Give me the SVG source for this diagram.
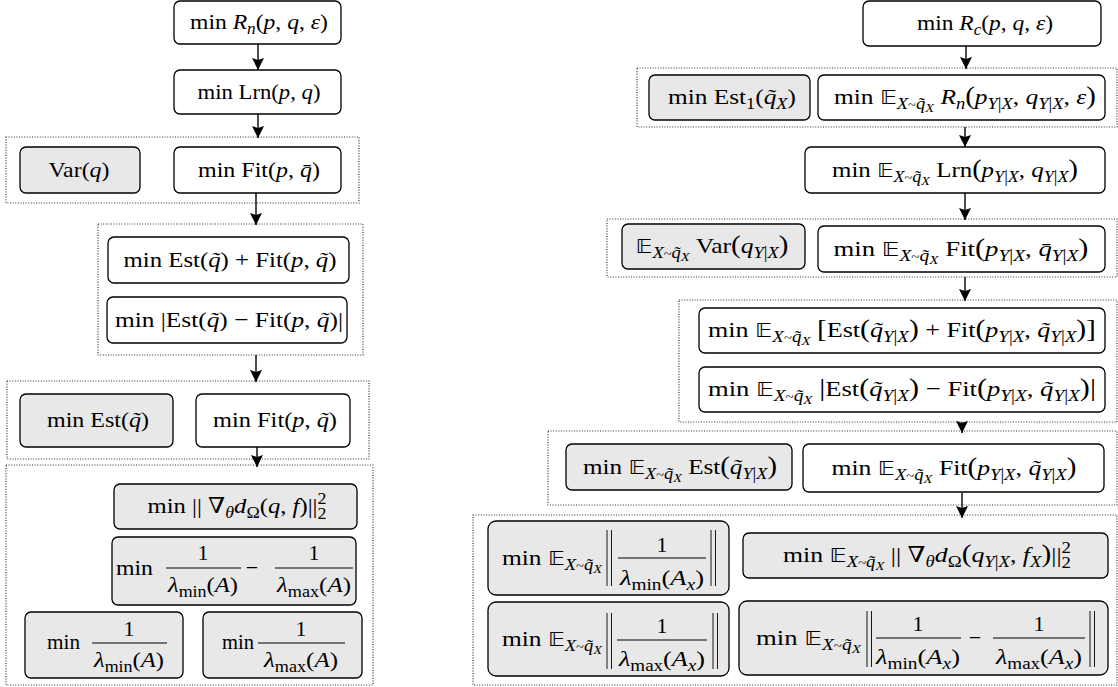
<svg xmlns="http://www.w3.org/2000/svg" width="1118" height="687" viewBox="0 0 1118 687">
<defs>
<style>
.t{font-family:"Liberation Serif","DejaVu Serif",serif;font-size:22px;fill:#000}
.i{font-style:italic}
.s{font-size:16px}
.ss{font-size:12.5px}
.bp{font-size:25px}
.bb{font-family:"DejaVu Sans","DejaVu Serif",sans-serif;font-size:20px}
.box{fill:#fff;stroke:#000;stroke-width:1.3}
.gbox{fill:#e8e8e8;stroke:#000;stroke-width:1.3}
.grp{fill:none;stroke:#333;stroke-width:1.2;stroke-dasharray:1 1.6}
.edge{stroke:#000;stroke-width:1.4;fill:none;marker-end:url(#ah)}
.fb{stroke:#000;stroke-width:1.2}
.db{stroke:#000;stroke-width:0.9}
</style>
<marker id="ah" markerWidth="14" markerHeight="14" viewBox="-13 -7 14 14" refX="0" refY="0" orient="auto" markerUnits="userSpaceOnUse">
<path d="M0,0 L-12,-6 L-10,0 L-12,6 Z" fill="#000"/>
</marker>
</defs>
<rect width="1118" height="687" fill="#fff"/>

<g id="groups">
<rect class="grp" x="6" y="137" width="353" height="66"/>
<rect class="grp" x="98" y="224" width="265" height="131"/>
<rect class="grp" x="7" y="381" width="362" height="78"/>
<rect class="grp" x="6" y="465" width="367" height="220"/>
<rect class="grp" x="637" y="68" width="480" height="59"/>
<rect class="grp" x="607" y="219" width="510" height="58"/>
<rect class="grp" x="679" y="300" width="438" height="122"/>
<rect class="grp" x="548" y="431" width="569" height="74"/>
<rect class="grp" x="473" y="515" width="644" height="170"/>
</g>

<g id="connectors">
<line class="edge" x1="258" y1="44" x2="258" y2="70"/>
<line class="edge" x1="258" y1="114" x2="258" y2="138"/>
<line class="edge" x1="256" y1="193" x2="256" y2="225"/>
<line class="edge" x1="256" y1="355" x2="256" y2="382"/>
<line class="edge" x1="257" y1="447" x2="257" y2="467"/>
<line class="edge" x1="966" y1="46" x2="966" y2="69"/>
<line class="edge" x1="965" y1="127" x2="965" y2="147"/>
<line class="edge" x1="965" y1="193" x2="965" y2="220"/>
<line class="edge" x1="965" y1="277" x2="965" y2="301"/>
<line class="edge" x1="962" y1="422" x2="962" y2="433"/>
<line class="edge" x1="962" y1="493" x2="962" y2="518"/>
</g>

<g id="n-rn">
<rect class="box" x="174" y="1" width="167" height="43" rx="6"/>
<text class="t" x="259" y="29" text-anchor="middle" textLength="138" lengthAdjust="spacingAndGlyphs">min <tspan class="i">R</tspan><tspan class="s i" dy="5">n</tspan><tspan dy="-5">(</tspan><tspan class="i">p</tspan>, <tspan class="i">q</tspan>, <tspan class="i">ε</tspan>)</text>
</g>
<g id="n-lrn">
<rect class="box" x="174" y="70" width="167" height="44" rx="6"/>
<text class="t" x="259" y="99" text-anchor="middle" textLength="123" lengthAdjust="spacingAndGlyphs">min Lrn(<tspan class="i">p</tspan>, <tspan class="i">q</tspan>)</text>
</g>
<g id="n-var">
<rect class="gbox" x="20" y="147" width="120" height="46" rx="6"/>
<text class="t" x="79" y="177" text-anchor="middle" textLength="61" lengthAdjust="spacingAndGlyphs">Var(<tspan class="i">q</tspan>)</text>
</g>
<g id="n-fitbar">
<rect class="box" x="174" y="147" width="167" height="46" rx="6"/>
<text class="t" x="259" y="177" text-anchor="middle" textLength="122" lengthAdjust="spacingAndGlyphs">min Fit(<tspan class="i">p</tspan>, <tspan class="i">q̄</tspan>)</text>
</g>
<g id="n-estplusfit">
<rect class="box" x="108" y="237" width="241" height="46" rx="6"/>
<text class="t" x="230" y="267" text-anchor="middle" textLength="213" lengthAdjust="spacingAndGlyphs">min Est(<tspan class="i">q̃</tspan>) + Fit(<tspan class="i">p</tspan>, <tspan class="i">q̃</tspan>)</text>
</g>
<g id="n-estminusfit">
<rect class="box" x="107" y="297" width="240" height="46" rx="6"/>
<text class="t" x="229" y="327" text-anchor="middle" textLength="228" lengthAdjust="spacingAndGlyphs">min |Est(<tspan class="i">q̃</tspan>) − Fit(<tspan class="i">p</tspan>, <tspan class="i">q̃</tspan>)|</text>
</g>
<g id="n-est">
<rect class="gbox" x="20" y="394" width="153" height="53" rx="6"/>
<text class="t" x="98" y="427" text-anchor="middle" textLength="102" lengthAdjust="spacingAndGlyphs">min Est(<tspan class="i">q̃</tspan>)</text>
</g>
<g id="n-fittilde">
<rect class="box" x="196" y="394" width="154" height="53" rx="6"/>
<text class="t" x="275" y="427" text-anchor="middle" textLength="124" lengthAdjust="spacingAndGlyphs">min Fit(<tspan class="i">p</tspan>, <tspan class="i">q̃</tspan>)</text>
</g>
<g id="n-grad">
<rect class="gbox" x="114" y="484" width="243" height="45" rx="6"/>
<text class="t" x="237" y="513" text-anchor="middle" textLength="179" lengthAdjust="spacingAndGlyphs">min || ∇<tspan class="s i" dy="5">θ</tspan><tspan class="i" dy="-5">d</tspan><tspan class="s" dy="5">Ω</tspan><tspan dy="-5">(</tspan><tspan class="i">q</tspan>, <tspan class="i">f</tspan>)||<tspan class="s" dy="-9">2</tspan><tspan class="s" dx="-8" dy="15">2</tspan></text>
</g>
<g id="n-lamdiff">
<rect class="gbox" x="112" y="537" width="244" height="68" rx="6"/>
<text class="t" x="116" y="575" textLength="37" lengthAdjust="spacingAndGlyphs">min</text>
<line class="fb" x1="166" y1="568" x2="241" y2="568"/>
<text class="t" x="203" y="560" text-anchor="middle">1</text>
<text class="t" x="203" y="592" text-anchor="middle" textLength="70" lengthAdjust="spacingAndGlyphs"><tspan class="i">λ</tspan><tspan class="s" dy="5">min</tspan><tspan dy="-5">(</tspan><tspan class="i">A</tspan>)</text>
<text class="t" x="252" y="575" text-anchor="middle">−</text>
<line class="fb" x1="275" y1="568" x2="353" y2="568"/>
<text class="t" x="314" y="560" text-anchor="middle">1</text>
<text class="t" x="314" y="592" text-anchor="middle" textLength="74" lengthAdjust="spacingAndGlyphs"><tspan class="i">λ</tspan><tspan class="s" dy="5">max</tspan><tspan dy="-5">(</tspan><tspan class="i">A</tspan>)</text>
</g>
<g id="n-lammin">
<rect class="gbox" x="25" y="612" width="158" height="66" rx="6"/>
<text class="t" x="47" y="649" textLength="33" lengthAdjust="spacingAndGlyphs">min</text>
<line class="fb" x1="92" y1="643" x2="167" y2="643"/>
<text class="t" x="129" y="636" text-anchor="middle">1</text>
<text class="t" x="129" y="667" text-anchor="middle" textLength="70" lengthAdjust="spacingAndGlyphs"><tspan class="i">λ</tspan><tspan class="s" dy="5">min</tspan><tspan dy="-5">(</tspan><tspan class="i">A</tspan>)</text>
</g>
<g id="n-lammax">
<rect class="gbox" x="203" y="612" width="159" height="66" rx="6"/>
<text class="t" x="222" y="649" textLength="32" lengthAdjust="spacingAndGlyphs">min</text>
<line class="fb" x1="258" y1="643" x2="345" y2="643"/>
<text class="t" x="301" y="636" text-anchor="middle">1</text>
<text class="t" x="301" y="667" text-anchor="middle" textLength="74" lengthAdjust="spacingAndGlyphs"><tspan class="i">λ</tspan><tspan class="s" dy="5">max</tspan><tspan dy="-5">(</tspan><tspan class="i">A</tspan>)</text>
</g>

<g id="n-rc">
<rect class="box" x="863" y="1" width="238" height="45" rx="6"/>
<text class="t" x="985" y="30" text-anchor="middle" textLength="136" lengthAdjust="spacingAndGlyphs">min <tspan class="i">R</tspan><tspan class="s i" dy="5">c</tspan><tspan dy="-5">(</tspan><tspan class="i">p</tspan>, <tspan class="i">q</tspan>, <tspan class="i">ε</tspan>)</text>
</g>
<g id="n-est1">
<rect class="gbox" x="649" y="75" width="161" height="45" rx="6"/>
<text class="t" x="732" y="104" text-anchor="middle" textLength="128" lengthAdjust="spacingAndGlyphs">min Est<tspan class="s" dy="5">1</tspan><tspan dy="-5">(</tspan><tspan class="i">q̃</tspan><tspan class="s i" dy="5">X</tspan><tspan dy="-5">)</tspan></text>
</g>
<g id="n-ern">
<rect class="box" x="818" y="75" width="287" height="45" rx="6"/>
<text class="t" x="965" y="104" text-anchor="middle" textLength="262" lengthAdjust="spacingAndGlyphs">min <tspan class="bb">𝔼</tspan><tspan class="s i" dy="5">X</tspan><tspan class="ss">~</tspan><tspan class="s i">q̃</tspan><tspan class="ss i" dy="3">X</tspan><tspan class="i" dy="-8"> R</tspan><tspan class="s i" dy="5">n</tspan><tspan class="bp" dy="-5">(</tspan><tspan class="i">p</tspan><tspan class="s" dy="5"><tspan class="i">Y</tspan>|<tspan class="i">X</tspan></tspan><tspan dy="-5">, </tspan><tspan class="i">q</tspan><tspan class="s" dy="5"><tspan class="i">Y</tspan>|<tspan class="i">X</tspan></tspan><tspan dy="-5">, </tspan><tspan class="i">ε</tspan><tspan class="bp">)</tspan></text>
</g>
<g id="n-elrn">
<rect class="box" x="805" y="147" width="300" height="46" rx="6"/>
<text class="t" x="955" y="177" text-anchor="middle" textLength="246" lengthAdjust="spacingAndGlyphs">min <tspan class="bb">𝔼</tspan><tspan class="s i" dy="5">X</tspan><tspan class="ss">~</tspan><tspan class="s i">q̃</tspan><tspan class="ss i" dy="3">X</tspan><tspan dy="-8"> Lrn</tspan><tspan class="bp">(</tspan><tspan class="i">p</tspan><tspan class="s" dy="5"><tspan class="i">Y</tspan>|<tspan class="i">X</tspan></tspan><tspan dy="-5">, </tspan><tspan class="i">q</tspan><tspan class="s" dy="5"><tspan class="i">Y</tspan>|<tspan class="i">X</tspan></tspan><tspan class="bp" dy="-5">)</tspan></text>
</g>
<g id="n-evar">
<rect class="gbox" x="622" y="224" width="183" height="45" rx="6"/>
<text class="t" x="712" y="253" text-anchor="middle" textLength="153" lengthAdjust="spacingAndGlyphs"><tspan class="bb">𝔼</tspan><tspan class="s i" dy="5">X</tspan><tspan class="ss">~</tspan><tspan class="s i">q̃</tspan><tspan class="ss i" dy="3">X</tspan><tspan dy="-8"> Var</tspan><tspan class="bp">(</tspan><tspan class="i">q</tspan><tspan class="s" dy="5"><tspan class="i">Y</tspan>|<tspan class="i">X</tspan></tspan><tspan class="bp" dy="-5">)</tspan></text>
</g>
<g id="n-efitbar">
<rect class="box" x="818" y="226" width="287" height="46" rx="6"/>
<text class="t" x="961" y="256" text-anchor="middle" textLength="255" lengthAdjust="spacingAndGlyphs">min <tspan class="bb">𝔼</tspan><tspan class="s i" dy="5">X</tspan><tspan class="ss">~</tspan><tspan class="s i">q̃</tspan><tspan class="ss i" dy="3">X</tspan><tspan dy="-8"> Fit</tspan><tspan class="bp">(</tspan><tspan class="i">p</tspan><tspan class="s" dy="5"><tspan class="i">Y</tspan>|<tspan class="i">X</tspan></tspan><tspan dy="-5">, </tspan><tspan class="i">q̄</tspan><tspan class="s" dy="5"><tspan class="i">Y</tspan>|<tspan class="i">X</tspan></tspan><tspan class="bp" dy="-5">)</tspan></text>
</g>
<g id="n-eestplusfit">
<rect class="box" x="699" y="308" width="406" height="45" rx="6"/>
<text class="t" x="902" y="337" text-anchor="middle" textLength="388" lengthAdjust="spacingAndGlyphs">min <tspan class="bb">𝔼</tspan><tspan class="s i" dy="5">X</tspan><tspan class="ss">~</tspan><tspan class="s i">q̃</tspan><tspan class="ss i" dy="3">X</tspan><tspan dy="-8"> </tspan><tspan class="bp">[</tspan>Est<tspan class="bp">(</tspan><tspan class="i">q̃</tspan><tspan class="s" dy="5"><tspan class="i">Y</tspan>|<tspan class="i">X</tspan></tspan><tspan class="bp" dy="-5">)</tspan> + Fit<tspan class="bp">(</tspan><tspan class="i">p</tspan><tspan class="s" dy="5"><tspan class="i">Y</tspan>|<tspan class="i">X</tspan></tspan><tspan dy="-5">, </tspan><tspan class="i">q̃</tspan><tspan class="s" dy="5"><tspan class="i">Y</tspan>|<tspan class="i">X</tspan></tspan><tspan class="bp" dy="-5">)]</tspan></text>
</g>
<g id="n-eestminusfit">
<rect class="box" x="699" y="367" width="406" height="45" rx="6"/>
<text class="t" x="902" y="396" text-anchor="middle" textLength="388" lengthAdjust="spacingAndGlyphs">min <tspan class="bb">𝔼</tspan><tspan class="s i" dy="5">X</tspan><tspan class="ss">~</tspan><tspan class="s i">q̃</tspan><tspan class="ss i" dy="3">X</tspan><tspan dy="-8"> </tspan><tspan class="bp">|</tspan>Est<tspan class="bp">(</tspan><tspan class="i">q̃</tspan><tspan class="s" dy="5"><tspan class="i">Y</tspan>|<tspan class="i">X</tspan></tspan><tspan class="bp" dy="-5">)</tspan> − Fit<tspan class="bp">(</tspan><tspan class="i">p</tspan><tspan class="s" dy="5"><tspan class="i">Y</tspan>|<tspan class="i">X</tspan></tspan><tspan dy="-5">, </tspan><tspan class="i">q̃</tspan><tspan class="s" dy="5"><tspan class="i">Y</tspan>|<tspan class="i">X</tspan></tspan><tspan class="bp" dy="-5">)|</tspan></text>
</g>
<g id="n-eest">
<rect class="gbox" x="566" y="444" width="226" height="46" rx="6"/>
<text class="t" x="680" y="474" text-anchor="middle" textLength="194" lengthAdjust="spacingAndGlyphs">min <tspan class="bb">𝔼</tspan><tspan class="s i" dy="5">X</tspan><tspan class="ss">~</tspan><tspan class="s i">q̃</tspan><tspan class="ss i" dy="3">X</tspan><tspan dy="-8"> Est</tspan><tspan class="bp">(</tspan><tspan class="i">q̃</tspan><tspan class="s" dy="5"><tspan class="i">Y</tspan>|<tspan class="i">X</tspan></tspan><tspan class="bp" dy="-5">)</tspan></text>
</g>
<g id="n-efittilde">
<rect class="box" x="803" y="444" width="301" height="48" rx="6"/>
<text class="t" x="954" y="475" text-anchor="middle" textLength="245" lengthAdjust="spacingAndGlyphs">min <tspan class="bb">𝔼</tspan><tspan class="s i" dy="5">X</tspan><tspan class="ss">~</tspan><tspan class="s i">q̃</tspan><tspan class="ss i" dy="3">X</tspan><tspan dy="-8"> Fit</tspan><tspan class="bp">(</tspan><tspan class="i">p</tspan><tspan class="s" dy="5"><tspan class="i">Y</tspan>|<tspan class="i">X</tspan></tspan><tspan dy="-5">, </tspan><tspan class="i">q̃</tspan><tspan class="s" dy="5"><tspan class="i">Y</tspan>|<tspan class="i">X</tspan></tspan><tspan class="bp" dy="-5">)</tspan></text>
</g>
<g id="n-elammin">
<rect class="gbox" x="488" y="521" width="241" height="74" rx="8"/>
<text class="t" x="502" y="565" textLength="100" lengthAdjust="spacingAndGlyphs">min <tspan class="bb">𝔼</tspan><tspan class="s i" dy="5">X</tspan><tspan class="ss">~</tspan><tspan class="s i">q̃</tspan><tspan class="ss i" dy="3">X</tspan></text>
<line class="db" x1="607" y1="530" x2="607" y2="586"/><line class="db" x1="611.5" y1="530" x2="611.5" y2="586"/>
<line class="fb" x1="618" y1="558" x2="706" y2="558"/>
<text class="t" x="662" y="552" text-anchor="middle">1</text>
<text class="t" x="662" y="585" text-anchor="middle" textLength="84" lengthAdjust="spacingAndGlyphs"><tspan class="i">λ</tspan><tspan class="s" dy="5">min</tspan><tspan dy="-5">(</tspan><tspan class="i">A</tspan><tspan class="s i" dy="5">x</tspan><tspan dy="-5">)</tspan></text>
<line class="db" x1="711" y1="530" x2="711" y2="586"/><line class="db" x1="715.5" y1="530" x2="715.5" y2="586"/>
</g>
<g id="n-egrad">
<rect class="gbox" x="743" y="533" width="365" height="45" rx="6"/>
<text class="t" x="927" y="562" text-anchor="middle" textLength="288" lengthAdjust="spacingAndGlyphs">min <tspan class="bb">𝔼</tspan><tspan class="s i" dy="5">X</tspan><tspan class="ss">~</tspan><tspan class="s i">q̃</tspan><tspan class="ss i" dy="3">X</tspan><tspan dy="-8"> || ∇</tspan><tspan class="s i" dy="5">θ</tspan><tspan class="i" dy="-5">d</tspan><tspan class="s" dy="5">Ω</tspan><tspan class="bp" dy="-5">(</tspan><tspan class="i">q</tspan><tspan class="s" dy="5"><tspan class="i">Y</tspan>|<tspan class="i">X</tspan></tspan><tspan dy="-5">, </tspan><tspan class="i">f</tspan><tspan class="s i" dy="5">X</tspan><tspan class="bp" dy="-5">)</tspan>||<tspan class="s" dy="-9">2</tspan><tspan class="s" dx="-8" dy="15">2</tspan></text>
</g>
<g id="n-elammax">
<rect class="gbox" x="488" y="602" width="241" height="74" rx="8"/>
<text class="t" x="502" y="646" textLength="100" lengthAdjust="spacingAndGlyphs">min <tspan class="bb">𝔼</tspan><tspan class="s i" dy="5">X</tspan><tspan class="ss">~</tspan><tspan class="s i">q̃</tspan><tspan class="ss i" dy="3">X</tspan></text>
<line class="db" x1="607" y1="613" x2="607" y2="669"/><line class="db" x1="611.5" y1="613" x2="611.5" y2="669"/>
<line class="fb" x1="617" y1="640" x2="707" y2="640"/>
<text class="t" x="662" y="633" text-anchor="middle">1</text>
<text class="t" x="662" y="666" text-anchor="middle" textLength="86" lengthAdjust="spacingAndGlyphs"><tspan class="i">λ</tspan><tspan class="s" dy="5">max</tspan><tspan dy="-5">(</tspan><tspan class="i">A</tspan><tspan class="s i" dy="5">x</tspan><tspan dy="-5">)</tspan></text>
<line class="db" x1="713" y1="613" x2="713" y2="669"/><line class="db" x1="717.5" y1="613" x2="717.5" y2="669"/>
</g>
<g id="n-elamdiff">
<rect class="gbox" x="739" y="601" width="369" height="74" rx="8"/>
<text class="t" x="756" y="645" textLength="105" lengthAdjust="spacingAndGlyphs">min <tspan class="bb">𝔼</tspan><tspan class="s i" dy="5">X</tspan><tspan class="ss">~</tspan><tspan class="s i">q̃</tspan><tspan class="ss i" dy="3">X</tspan></text>
<line class="db" x1="867" y1="611" x2="867" y2="667"/><line class="db" x1="871.5" y1="611" x2="871.5" y2="667"/>
<line class="fb" x1="876" y1="638" x2="961" y2="638"/>
<text class="t" x="918" y="631" text-anchor="middle">1</text>
<text class="t" x="918" y="664" text-anchor="middle" textLength="84" lengthAdjust="spacingAndGlyphs"><tspan class="i">λ</tspan><tspan class="s" dy="5">min</tspan><tspan dy="-5">(</tspan><tspan class="i">A</tspan><tspan class="s i" dy="5">x</tspan><tspan dy="-5">)</tspan></text>
<text class="t" x="975" y="645" text-anchor="middle">−</text>
<line class="fb" x1="993" y1="638" x2="1085" y2="638"/>
<text class="t" x="1039" y="631" text-anchor="middle">1</text>
<text class="t" x="1039" y="664" text-anchor="middle" textLength="86" lengthAdjust="spacingAndGlyphs"><tspan class="i">λ</tspan><tspan class="s" dy="5">max</tspan><tspan dy="-5">(</tspan><tspan class="i">A</tspan><tspan class="s i" dy="5">x</tspan><tspan dy="-5">)</tspan></text>
<line class="db" x1="1090" y1="611" x2="1090" y2="667"/><line class="db" x1="1094.5" y1="611" x2="1094.5" y2="667"/>
</g>
</svg>
